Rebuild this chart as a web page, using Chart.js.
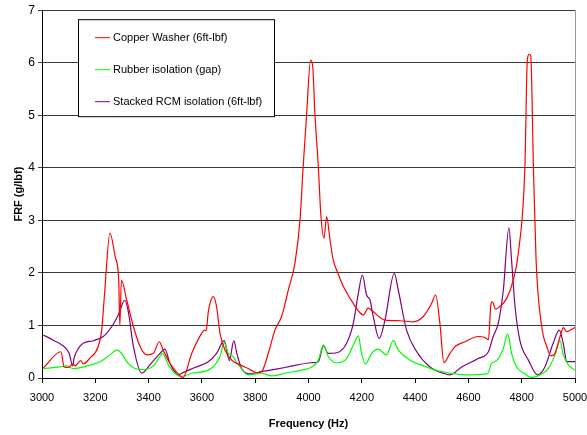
<!DOCTYPE html>
<html>
<head>
<meta charset="utf-8">
<script src="https://cdn.jsdelivr.net/npm/chart.js@4/dist/chart.umd.min.js"></script>
<style>
  html, body { margin: 0; padding: 0; background: #fff; }
  #wrap { width: 587px; height: 435px; }
</style>
</head>
<body>
<div id="wrap"><canvas id="frf" width="587" height="435"></canvas></div>
<script>
// ── data (Hz / g per lbf) ──
const copperHz = [3005,3071,3083,3099,3117,3124,3145,3155,3180,3211,3224,3234,3255,3275,3288,3292,3298,3318,3343,3368,3393,3418,3440,3455,3480,3518,3528,3562,3599,3610,3616,3624,3643,3655,3668,3687,3712,3743,3774,3806,3824,3849,3874,3899,3924,3949,3968,3980,3993,4008,4016,4024,4037,4046,4058,4068,4081,4093,4106,4131,4168,4206,4224,4243,4287,4343,4393,4431,4462,4477,4493,4508,4531,4550,4587,4637,4662,4675,4685,4690,4702,4718,4744,4768,4787,4812,4821,4828,4834,4844,4854,4875,4894,4910,4925,4944,4956,4969,4981,5000];
const copperFrf = [0.19,0.50,0.21,0.20,0.27,0.23,0.33,0.27,0.38,0.60,0.91,1.55,2.76,2.30,1.85,1.00,1.86,1.48,0.98,0.60,0.44,0.47,0.69,0.53,0.28,0.04,0.00,0.47,0.85,0.91,0.90,1.26,1.55,1.36,0.85,0.53,0.34,0.25,0.18,0.10,0.12,0.47,0.91,1.17,1.67,2.18,3.00,4.02,5.03,6.05,5.92,5.03,4.02,3.13,2.66,3.07,2.62,2.24,2.05,1.74,1.42,1.20,1.33,1.26,1.10,1.09,1.07,1.17,1.42,1.58,1.04,0.29,0.47,0.60,0.69,0.79,0.77,0.73,1.42,1.45,1.31,1.36,1.52,1.86,2.37,4.02,6.05,6.16,6.13,4.02,2.24,0.98,0.60,0.42,0.47,0.79,0.96,0.88,0.91,0.96];

const rubberHz = [3005,3068,3093,3117,3168,3218,3255,3280,3299,3318,3349,3380,3418,3443,3453,3474,3505,3524,3562,3624,3649,3668,3684,3699,3714,3737,3774,3824,3862,3912,3974,4012,4037,4056,4074,4106,4143,4174,4187,4199,4214,4237,4262,4293,4318,4337,4381,4431,4481,4531,4587,4672,4687,4706,4731,4747,4762,4781,4812,4835,4869,4900,4925,4944,4956,4975,5000];
const rubberFrf = [0.18,0.21,0.23,0.18,0.23,0.31,0.44,0.53,0.47,0.31,0.18,0.16,0.23,0.41,0.47,0.25,0.06,0.03,0.09,0.15,0.25,0.41,0.67,0.47,0.42,0.25,0.06,0.09,0.04,0.09,0.15,0.21,0.34,0.63,0.41,0.29,0.37,0.69,0.80,0.47,0.27,0.47,0.55,0.44,0.71,0.53,0.34,0.23,0.14,0.09,0.06,0.08,0.28,0.33,0.56,0.84,0.47,0.21,0.08,0.01,0.06,0.18,0.44,0.71,0.44,0.25,0.15];

const stackedHz = [3005,3042,3080,3102,3115,3120,3136,3155,3192,3230,3262,3286,3311,3324,3343,3374,3405,3443,3461,3480,3511,3524,3574,3624,3655,3684,3693,3703,3720,3731,3749,3777,3824,3912,4012,4037,4056,4074,4106,4143,4168,4187,4202,4218,4231,4243,4265,4287,4322,4337,4368,4406,4456,4506,4531,4575,4637,4675,4693,4712,4731,4752,4762,4775,4793,4825,4860,4887,4918,4941,4956,4969,5000];
const stackedFrf = [0.82,0.72,0.61,0.47,0.23,0.37,0.56,0.66,0.71,0.79,0.98,1.20,1.48,1.26,0.60,0.09,0.25,0.47,0.55,0.28,0.06,0.09,0.20,0.31,0.47,0.71,0.53,0.33,0.71,0.47,0.18,0.08,0.12,0.20,0.29,0.31,0.61,0.47,0.48,0.66,1.04,1.61,1.96,1.58,1.48,1.17,0.75,1.10,1.99,1.67,0.91,0.50,0.21,0.09,0.06,0.21,0.37,0.50,0.79,1.04,1.67,2.86,2.24,1.36,0.72,0.34,0.06,0.21,0.66,0.91,0.66,0.31,0.31];

const seriesNames = ['Copper Washer (6ft-lbf)', 'Rubber isolation (gap)', 'Stacked RCM isolation (6ft-lbf)'];
const seriesColors = ['#ff0000', '#00ff00', '#800080'];
const xTicks = [3000,3200,3400,3600,3800,4000,4200,4400,4600,4800,5000];
const yTicks = [0,1,2,3,4,5,6,7];

const FONT = 'Liberation Sans, Arial, sans-serif';
const pts = (xs, ys) => xs.map((x, i) => ({ x, y: ys[i] }));

// legend box + right border of plot, drawn by hand like the Excel original
const boxLegend = {
  id: 'boxLegend',
  afterDraw(chart) {
    const { ctx, chartArea: a } = chart;
    ctx.save();
    ctx.strokeStyle = '#9a9a9a'; ctx.lineWidth = 1;
    ctx.beginPath(); ctx.moveTo(a.right + 0.5, a.top); ctx.lineTo(a.right + 0.5, a.bottom); ctx.stroke();

    const L = a.left + 36, T = a.top + 9, W = 196, H = 97;
    ctx.fillStyle = '#fff'; ctx.fillRect(L, T, W, H);
    ctx.strokeStyle = '#000'; ctx.strokeRect(L + 0.5, T + 0.5, W, H);
    ctx.font = '11px ' + FONT; ctx.textBaseline = 'middle'; ctx.fillStyle = '#000';
    chart.data.datasets.forEach((ds, i) => {
      const y = T + 18 + i * 32;
      ctx.strokeStyle = ds.borderColor; ctx.lineWidth = 1;
      ctx.beginPath(); ctx.moveTo(L + 17, y + 0.5); ctx.lineTo(L + 32, y + 0.5); ctx.stroke();
      ctx.fillStyle = '#000'; ctx.fillText(ds.label, L + 35, y + 1);
    });
    ctx.restore();
  }
};

const sets = [pts(copperHz, copperFrf), pts(rubberHz, rubberFrf), pts(stackedHz, stackedFrf)];

new Chart(document.getElementById('frf'), {
  type: 'line',
  data: {
    datasets: sets.map((d, i) => ({
      label: seriesNames[i], data: d, borderColor: seriesColors[i],
      borderWidth: 1.2, pointRadius: 0, fill: false, cubicInterpolationMode: 'monotone'
    }))
  },
  options: {
    responsive: false, animation: false, maintainAspectRatio: false,
    layout: { padding: { top: 10, right: 12, left: 8, bottom: 0 } },
    plugins: { legend: { display: false }, tooltip: { enabled: false } },
    scales: {
      x: {
        type: 'linear', min: 3000, max: 5000,
        afterBuildTicks: s => { s.ticks = xTicks.map(v => ({ value: v })); },
        afterFit: s => { s.height = 57; s.paddingLeft = 0; s.paddingRight = 0; },
        grid: { drawOnChartArea: false, color: '#000', tickLength: 5 },
        border: { color: '#000', width: 1 },
        ticks: { color: '#000', font: { family: FONT, size: 11 }, padding: 8, maxRotation: 0, callback: v => String(v) },
        title: { display: true, text: 'Frequency (Hz)', color: '#000', font: { family: FONT, size: 11, weight: 'bold' }, padding: { top: 6 } }
      },
      y: {
        min: 0, max: 7,
        afterBuildTicks: s => { s.ticks = yTicks.map(v => ({ value: v })); },
        afterFit: s => { s.width = 34; },
        grid: { color: '#3a3a3a', lineWidth: 1, tickLength: 4 },
        border: { color: '#000', width: 1 },
        ticks: { color: '#000', font: { family: FONT, size: 12 }, padding: 3 },
        title: { display: true, text: 'FRF (g/lbf)', color: '#000', font: { family: FONT, size: 11, weight: 'bold' }, padding: { bottom: 2 } }
      }
    }
  },
  plugins: [boxLegend]
});
</script>
</body>
</html>
